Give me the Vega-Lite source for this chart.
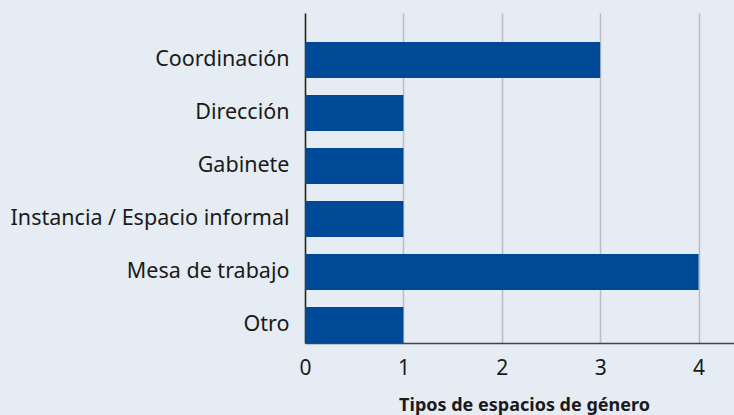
{
  "$schema": "https://vega.github.io/schema/vega-lite/v6.json",
  "width": 429,
  "height": 330,
  "autosize": {"type": "none"},
  "padding": {"left": 305, "top": 13, "right": 0, "bottom": 72},
  "background": "#e5ecf3",
  "config": {"view": {"stroke": null}, "font": "Noto Sans"},
  "data": {"values": [
    {"tipo": "Coordinación", "n": 3},
    {"tipo": "Dirección", "n": 1},
    {"tipo": "Gabinete", "n": 1},
    {"tipo": "Instancia / Espacio informal", "n": 1},
    {"tipo": "Mesa de trabajo", "n": 4},
    {"tipo": "Otro", "n": 1}
  ]},
  "mark": {"type": "bar", "color": "#004996"},
  "encoding": {
    "y": {"field": "tipo", "type": "nominal", "sort": null,
      "scale": {"paddingInner": 0.32, "paddingOuter": 0.273, "align": 1},
      "axis": {"title": null, "ticks": false, "labelFontSize": 21.5, "labelColor": "#1a1a1a", "labelPadding": 16, "domainColor": "#222222", "domainWidth": 1.5, "labelLimit": 400}},
    "x": {"field": "n", "type": "quantitative",
      "scale": {"domain": [0, 4.36], "nice": false},
      "axis": {"values": [0, 1, 2, 3, 4], "ticks": false, "labelFontSize": 21, "labelColor": "#1a1a1a", "labelPadding": 14.5, "gridColor": "#bdbdbd", "gridWidth": 1.5, "domainColor": "#444444", "domainWidth": 1.5,
        "title": "Tipos de espacios de género", "titleFontSize": 18, "titleFontWeight": "bold", "titleColor": "#1a1a1a", "titlePadding": 18, "titleX": 219, "labelFlush": false}}
  }
}
